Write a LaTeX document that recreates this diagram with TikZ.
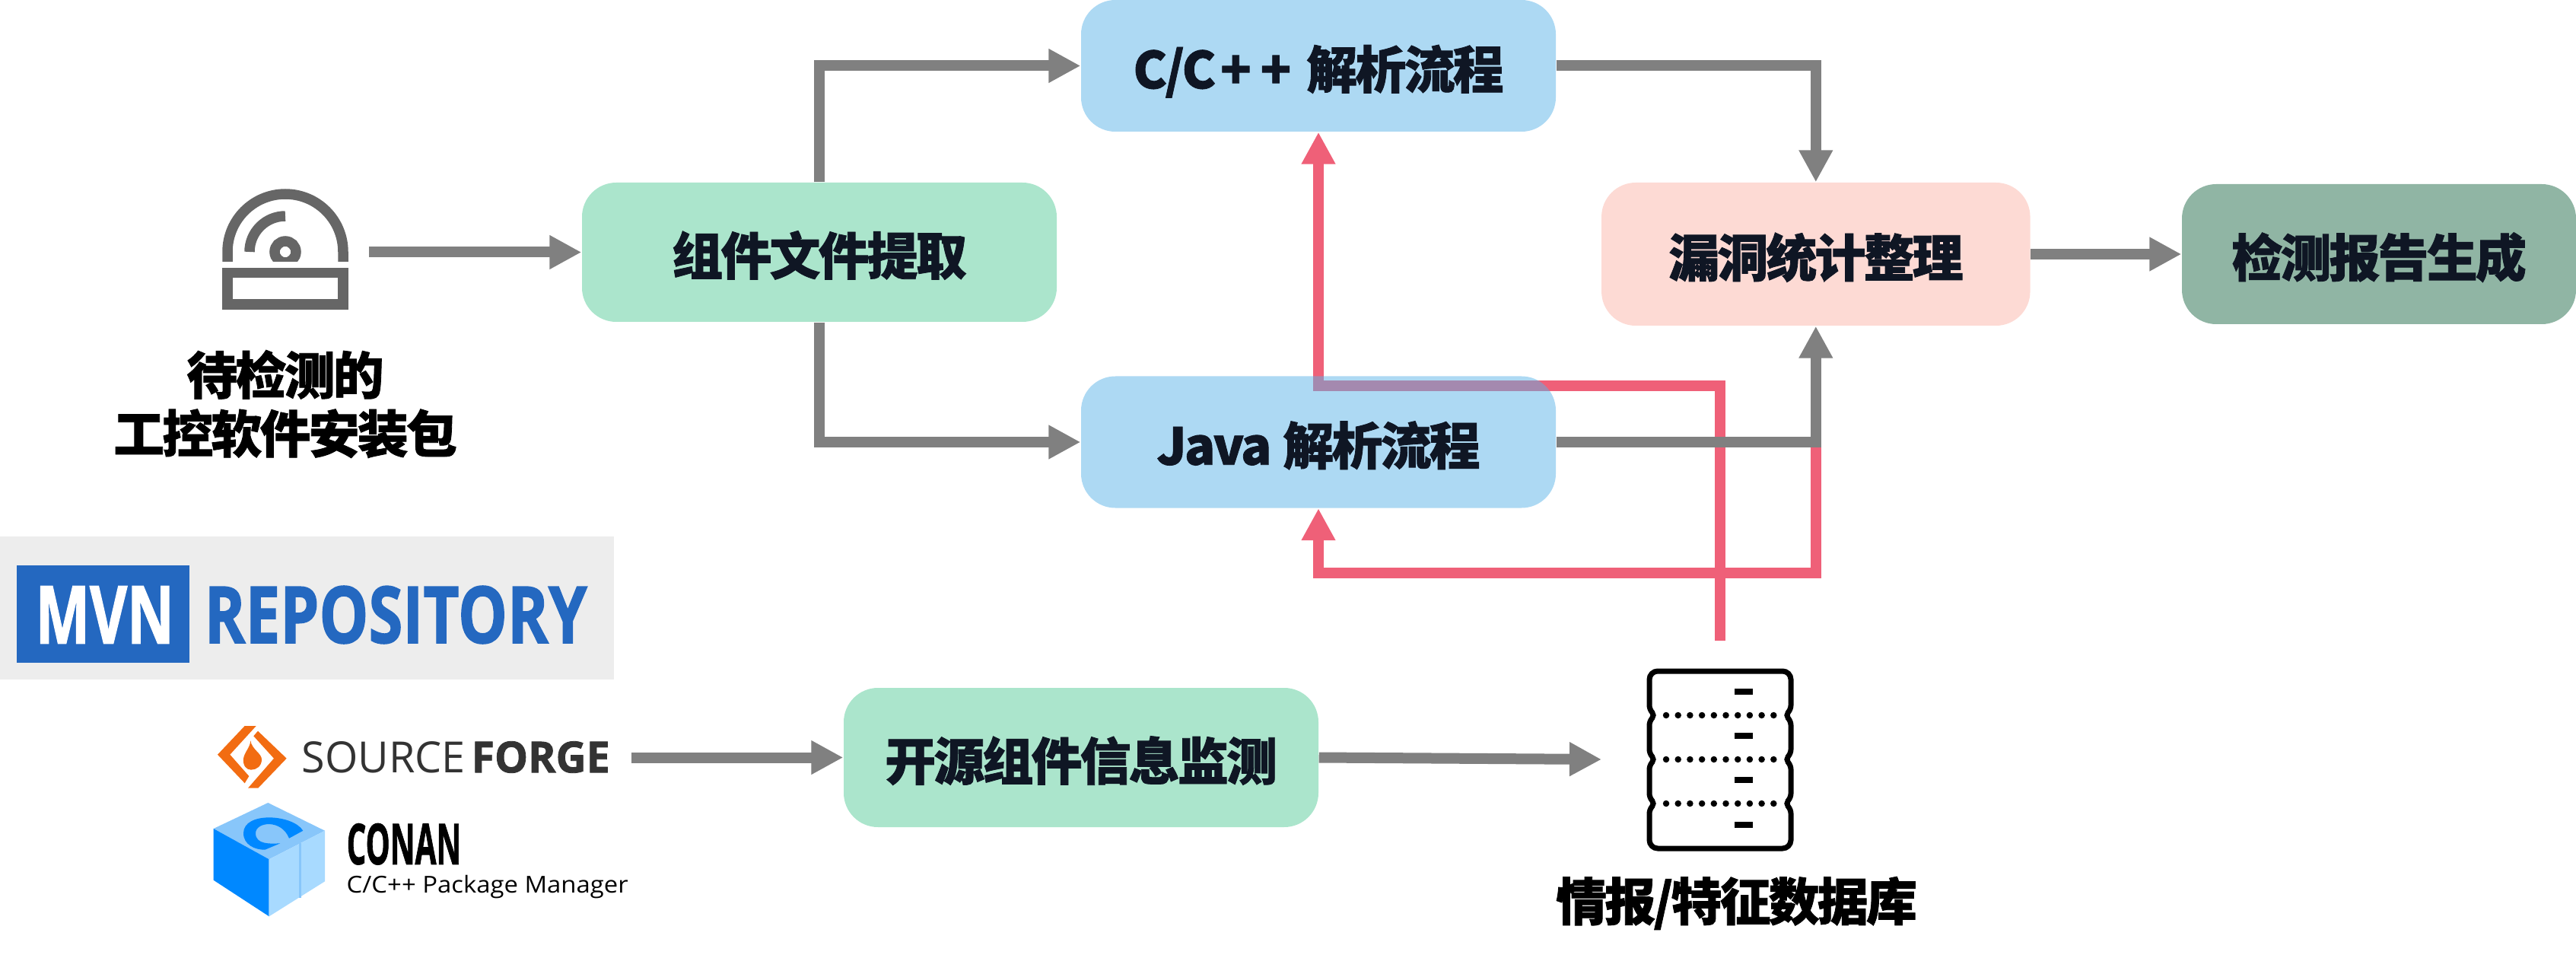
\documentclass[tikz,border=0pt]{standalone}
\usepackage{graphicx}
\usepackage{fontspec}
\setmainfont{Open Sans}
\newfontfamily\logofont{Open Sans}[BoldFeatures={FakeBold=1.5}]
\newfontfamily\cjk{Noto Sans CJK SC}[LetterSpace=-4,BoldFeatures={FakeBold=1.2}]
\usetikzlibrary{arrows.meta,backgrounds}

\definecolor{flowgray}{HTML}{808080}
\definecolor{flowred}{HTML}{EF6078}
\definecolor{boxgreen}{HTML}{ABE5CC}
\definecolor{boxblue}{HTML}{5BB3E7}
\definecolor{boxpink}{HTML}{FDDAD4}
\definecolor{boxsage}{HTML}{90B5A4}
\definecolor{textdark}{HTML}{0F1624}
\definecolor{icongray}{HTML}{666666}
\definecolor{mvnblue}{HTML}{2468C0}
\definecolor{forgeorange}{HTML}{F26C12}
\definecolor{forgetext}{HTML}{333333}
\definecolor{conandeep}{HTML}{0088FF}
\definecolor{conanpale}{HTML}{A8DAFF}
\definecolor{conanmid}{HTML}{88C6FA}

\tikzset{
  flowbox/.style={rounded corners=.45cm,inner sep=0pt,text=textdark,text height=.594cm,text depth=0cm,
    minimum width=6.24cm,font=\cjk\bfseries\fontsize{19}{22}\selectfont},
  biglabel/.style={inner sep=0pt,align=center,text=black,
    font=\cjk\bfseries\fontsize{19}{21.9}\selectfont},
  logotext/.style={inner sep=0pt,anchor=west},
  grayflow/.style={draw=flowgray,line width=.14cm,-{Triangle[length=.42cm,width=.42cm]}},
  redflow/.style={draw=flowred,line width=.14cm,-{Triangle[length=.42cm,width=.42cm]}},
  iconline/.style={draw=icongray,line width=.135cm},
  dbline/.style={draw=black,line width=.07cm},
  dbdots/.style={draw=black,line width=.085cm,line cap=round,dash pattern=on 0pt off .157cm}
}

\begin{document}
\begin{tikzpicture}
\useasboundingbox (0,0) rectangle (33.86,-12.59);

% main flow
\node[flowbox,fill=boxgreen,minimum height=1.83cm] (extract) at (10.77,-3.315) {组件文件提取};
\node[flowbox,fill=boxblue,fill opacity=.5,text opacity=1,minimum height=1.73cm] (cparse) at (17.33,-.865) {C/C\hspace{.06cm}+\hspace{.12cm}+\hspace{.2cm}解析流程};
\node[flowbox,fill=boxblue,fill opacity=.5,text opacity=1,minimum height=1.73cm] (javaparse) at (17.33,-5.81) {Java\hspace{.15cm}解析流程};
\node[flowbox,fill=boxpink,minimum width=5.635cm,minimum height=1.88cm] (vulnstat) at (23.868,-3.34) {漏洞统计整理};
\node[flowbox,fill=boxsage,minimum width=5.18cm,minimum height=1.84cm] (report) at (31.27,-3.34) {检测报告生成};
\node[flowbox,fill=boxgreen,minimum height=1.83cm] (monitor) at (14.21,-9.955) {开源组件信息监测};

\node[biglabel] (pkglabel) at (3.75,-5.31) {待检测的\\工控软件安装包};
\node[biglabel] (dblabel) at (22.825,-11.87) {情报/特征数据库};

\coordinate (discout) at (4.85,-3.315);
\coordinate (forgeout) at (8.30,-9.955);
\coordinate (dbin) at (21.05,-9.98);
\coordinate (dbtop) at (22.61,-8.42);
\coordinate (redbend) at (22.61,-5.075);
\coordinate (redjoin) at (23.87,-5.81);
\coordinate (redlow) at (23.87,-7.53);

\draw[grayflow] (discout) -- (extract.west);
\draw[grayflow] (extract.north) |- (cparse.west);
\draw[grayflow] (extract.south) |- (javaparse.west);
\draw[grayflow] (cparse.east) -| (vulnstat.north);
\draw[grayflow] (javaparse.east) -| (vulnstat.south);
\draw[grayflow] (vulnstat.east) -- (report.west);
\draw[grayflow] (forgeout) -- (monitor.west);
\draw[grayflow] (monitor.east) -- (dbin);

\begin{scope}[on background layer]
\draw[redflow] (dbtop) -- (redbend) -| (cparse.south);
\draw[redflow] (redjoin) -- (redlow) -| (javaparse.south);
\end{scope}

% disc icon
\draw[iconline] (2.99,-3.44) -- (2.99,-3.31) arc (180:0:.76) -- (4.51,-3.44);
\draw[iconline] (3.28,-3.31) arc (180:90:.47);
\begin{scope}
\clip (3.4,-2.9) rectangle (4.1,-3.44);
\draw[iconline] (3.75,-3.31) circle (.14);
\end{scope}
\draw[iconline] (2.99,-3.585) rectangle (4.51,-4.00);

% database icon
\draw[dbline,rounded corners=.05cm] (21.68,-9.0) [rounded corners=.11cm] -- (21.68,-8.82) -- (23.54,-8.82) [rounded corners=.05cm] -- (23.54,-9.32) -- (23.47,-9.40) -- (23.54,-9.48) -- (23.54,-9.90) -- (23.47,-9.98) -- (23.54,-10.06) -- (23.54,-10.48) -- (23.47,-10.56) -- (23.54,-10.64) [rounded corners=.11cm] -- (23.54,-11.15) -- (21.68,-11.15) [rounded corners=.05cm] -- (21.68,-10.64) -- (21.75,-10.56) -- (21.68,-10.48) -- (21.68,-10.06) -- (21.75,-9.98) -- (21.68,-9.90) -- (21.68,-9.48) -- (21.75,-9.40) -- (21.68,-9.32) -- cycle;
\draw[dbdots] (21.90,-9.40) -- (23.35,-9.40);
\draw[dbdots] (21.90,-9.98) -- (23.35,-9.98);
\draw[dbdots] (21.90,-10.56) -- (23.35,-10.56);
\draw[line width=.08cm] (22.80,-9.085) -- (23.04,-9.085);
\draw[line width=.08cm] (22.80,-9.666) -- (23.04,-9.666);
\draw[line width=.08cm] (22.80,-10.25) -- (23.04,-10.25);
\draw[line width=.08cm] (22.80,-10.84) -- (23.04,-10.84);

% mvn logo
\fill[black!7] (0,-7.045) rectangle (8.066,-8.93);
\fill[mvnblue] (.22,-7.426) rectangle (2.486,-8.707);
\node[logotext,text=white] (mvnmark) at (.46,-8.08) {\resizebox{1.82cm}{.75cm}{\logofont\bfseries MVN}};
\node[logotext,text=mvnblue] (mvnrepo) at (2.68,-8.08) {\resizebox{5.03cm}{.75cm}{\logofont\bfseries REPOSITORY}};

% sourceforge logo
\fill[forgeorange] (3.217,-9.54) -- (3.367,-9.54) -- (3.023,-9.917) -- (3.273,-10.20) -- (3.217,-10.293) -- (2.86,-9.917) -- cycle;
\fill[forgeorange] (3.39,-9.607) -- (3.767,-9.967) -- (3.393,-10.357) -- (3.26,-10.357) -- (3.60,-9.967) -- (3.333,-9.673) -- cycle;
\fill[forgeorange] (3.293,-9.733) .. controls (3.31,-9.85) and (3.44,-9.90) .. (3.44,-9.98) .. controls (3.44,-10.07) and (3.37,-10.117) .. (3.30,-10.117) .. controls (3.23,-10.117) and (3.19,-10.05) .. (3.20,-9.97) .. controls (3.21,-9.89) and (3.29,-9.82) .. cycle;
\node[logotext,text=forgetext] (forgeleft) at (3.96,-9.95) {\resizebox{2.15cm}{.41cm}{SOURCE}};
\node[logotext,text=forgetext] (forgeright) at (6.19,-9.95) {\resizebox{1.82cm}{.41cm}{\logofont\bfseries FORGE}};

% conan logo
\fill[conanmid] (3.523,-10.55) -- (4.27,-10.917) -- (3.537,-11.293) -- (2.807,-10.89) -- cycle;
\fill[conandeep] (2.807,-10.89) -- (3.537,-11.293) -- (3.537,-12.043) -- (2.807,-11.567) -- cycle;
\fill[conanpale] (3.537,-11.293) -- (4.27,-10.917) -- (4.27,-11.583) -- (3.537,-12.043) -- cycle;
\draw[conanmid,line width=.03cm] (3.94,-11.083) -- (3.94,-11.80);
\fill[conandeep] (3.983,-10.917) .. controls (3.85,-10.70) and (3.20,-10.66) .. (3.20,-10.95) .. controls (3.20,-11.10) and (3.35,-11.17) .. (3.483,-11.167) -- (3.683,-11.083) .. controls (3.55,-11.09) and (3.36,-11.10) .. (3.36,-10.95) .. controls (3.36,-10.80) and (3.70,-10.76) .. (3.80,-11.017) -- cycle;
\node[logotext] (conanname) at (4.55,-11.093) {\resizebox{1.506cm}{.536cm}{\logofont\bfseries CONAN}};
\node[logotext] (conanline) at (4.55,-11.66) {\resizebox*{3.70cm}{.306cm}{C/C++ Package Manager}};
\end{tikzpicture}
\end{document}
